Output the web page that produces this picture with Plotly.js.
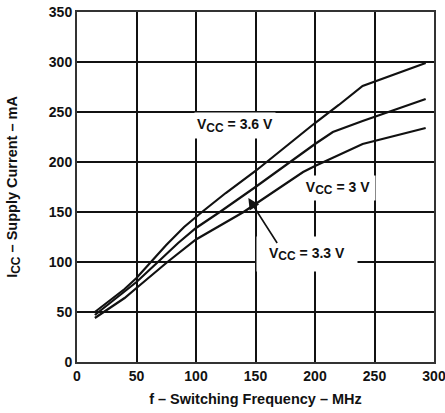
<!DOCTYPE html>
<html><head><meta charset="utf-8">
<script src="https://cdn.plot.ly/plotly-3.0.1.min.js"></script>
<style>html,body{margin:0;padding:0;background:#fff}</style>
</head><body><div id="chart" style="width:445px;height:413px"></div>
<script>
const freq36 = [15, 40, 50, 62, 75, 90, 105, 125, 150, 175, 200, 220, 240, 293];
const icc36  = [50, 73, 84, 100, 117, 135, 150, 169, 191, 215, 239, 257, 276, 299];
const freq33 = [15, 40, 50, 68, 85, 100, 120, 150, 179, 200, 215, 240, 293];
const icc33  = [47, 70, 80, 100, 119, 134, 150, 175, 200, 218, 230, 241, 263];
const freq30 = [15, 40, 50, 76, 100, 140, 150, 190, 200, 240, 293];
const icc30  = [44, 64, 74, 100, 122.5, 150, 158, 190, 196, 218, 234];
const xTicks = [0, 50, 100, 150, 200, 250, 300];
const yTicks = [0, 50, 100, 150, 200, 250, 300, 350];
const labels = [
  {volts: '3.6', x: 133, y: 237, w: 80, h: 25},
  {volts: '3', x: 219, y: 174, w: 74, h: 24},
  {volts: '3.3', x: 193.4, y: 108.5, w: 100, h: 34}
];
const arrowTip = {x: 144, y: 164};
const arrowTail = {x: 169, y: 117.5};

const FAM = 'Liberation Sans, Arial, sans-serif';
const INK = '#111';
const sub = s => '<sub><span style="font-size:12px">' + s + '</span></sub>';
const lineStyle = {color: INK, width: 2.2};
const traces = [
  {x: freq36, y: icc36, mode: 'lines', line: lineStyle, name: '3.6 V'},
  {x: freq33, y: icc33, mode: 'lines', line: lineStyle, name: '3.3 V'},
  {x: freq30, y: icc30, mode: 'lines', line: lineStyle, name: '3 V'}
];
const annotations = labels.map(l => ({
  text: '<b>V' + sub('CC') + ' = ' + l.volts + ' V</b>', x: l.x, y: l.y, xref: 'x', yref: 'y',
  showarrow: false, bgcolor: '#fff', borderpad: 0, width: l.w, height: l.h,
  font: {family: FAM, size: 14, color: INK}
}));
annotations.push({
  text: '', x: arrowTip.x, y: arrowTip.y, ax: arrowTail.x, ay: arrowTail.y,
  axref: 'x', ayref: 'y', xref: 'x', yref: 'y', showarrow: true,
  arrowhead: 2, arrowsize: 1.4, arrowwidth: 1.6, arrowcolor: INK
});
const tickFont = {family: FAM, size: 14, color: INK};
const layout = {
  width: 445, height: 413,
  margin: {l: 77.3, r: 11, t: 11.5, b: 50.5},
  paper_bgcolor: '#fff', plot_bgcolor: '#fff',
  showlegend: false, font: {family: FAM, size: 14, color: INK},
  xaxis: {
    range: [0, 300], tickvals: xTicks, ticktext: xTicks.map(v => '<b>' + v + '</b>'),
    showgrid: true, gridcolor: INK, gridwidth: 2, zeroline: false,
    showline: true, linecolor: '#333', linewidth: 2, mirror: true,
    ticks: '', ticklen: 0, tickfont: tickFont, ticklabeloverflow: 'allow',
    title: {text: '<b>f – Switching Frequency – MHz</b>', font: {family: FAM, size: 14.5, color: INK}, standoff: 11}
  },
  yaxis: {
    range: [0, 350], tickvals: yTicks, ticktext: yTicks.map(v => '<b>' + v + '</b>'),
    showgrid: true, gridcolor: INK, gridwidth: 2, zeroline: false,
    showline: true, linecolor: '#333', linewidth: 2, mirror: true,
    ticks: '', ticklen: 0, tickfont: tickFont, ticklabeloverflow: 'allow',
    title: {text: '<b>I' + sub('CC') + ' – Supply Current – mA</b>', font: {family: FAM, size: 14.5, color: INK}, standoff: 28}
  },
  annotations: annotations
};
Plotly.newPlot('chart', traces, layout, {staticPlot: true, displayModeBar: false});
</script></body></html>
